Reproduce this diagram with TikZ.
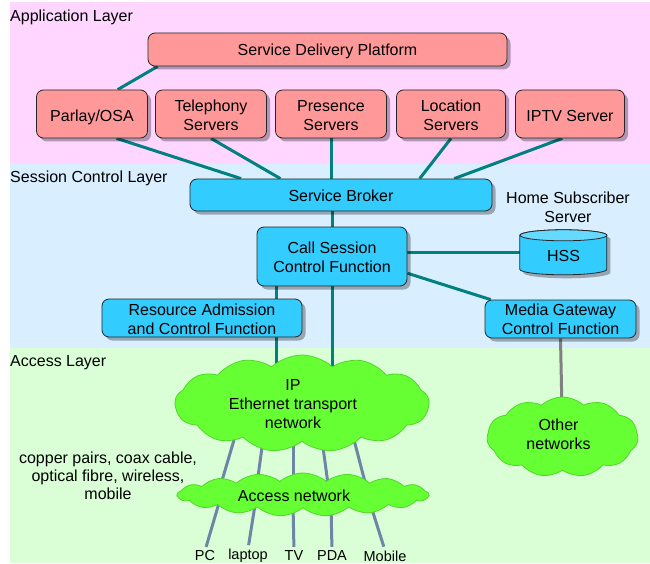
\documentclass[tikz,border=0pt]{standalone}
\usepackage{fontspec}
\setmainfont{Liberation Sans}
\usetikzlibrary{shapes.symbols,shadows,calc}
\pgfdeclarelayer{bg}
\pgfdeclarelayer{lines}
\pgfsetlayers{bg,lines,main}
\definecolor{pinkband}{RGB}{255,214,255}
\definecolor{blueband}{RGB}{217,238,255}
\definecolor{greenband}{RGB}{218,255,214}
\definecolor{redfill}{RGB}{255,153,153}
\definecolor{bluefill}{RGB}{51,204,255}
\definecolor{bluetop}{RGB}{102,217,255}
\definecolor{tealline}{RGB}{0,128,128}
\definecolor{slateline}{RGB}{110,134,166}
\definecolor{grayline}{RGB}{128,128,128}
\definecolor{cloudfill}{RGB}{102,255,51}
\definecolor{cloudedge}{RGB}{80,215,40}
% text block whose last baseline sits #1 below the node centre, shifted #2 horizontally
\newcommand\bt[3][7pt]{\raisebox{-#1}[0pt][0pt]{\makebox[0pt][c]{\hspace*{#2}\begin{tabular}[b]{@{}c@{}}#3\end{tabular}}}}
\begin{document}
\begin{tikzpicture}[x=1pt,y=-1pt,
  every node/.style={font=\fontsize{16}{19}\selectfont, align=center, inner sep=0pt},
  boxbase/.style={draw=black!85, line width=0.8pt, rounded corners=7pt,
    drop shadow={shadow xshift=3.5pt, shadow yshift=-3.5pt, fill=black, opacity=0.3}},
  appbox/.style={boxbase, fill=redfill},
  ctlbox/.style={boxbase, fill=bluefill},
  conn/.style={draw=tealline, line width=3pt},
  accline/.style={draw=slateline, line width=3pt},
  netcloud/.style={cloud, cloud ignores aspect, fill=cloudfill, draw=cloudedge, line width=0.8pt},
  layerlabel/.style={anchor=west},
  devlabel/.style={font=\fontsize{14.5}{17}\selectfont},
]
\useasboundingbox (0,0) rectangle (650,564);

% layer bands
\begin{pgfonlayer}{bg}
  \fill[pinkband] (10,2) rectangle (650,164);
  \fill[blueband] (10,164) rectangle (650,348);
  \fill[greenband] (10,348) rectangle (650,563);
\end{pgfonlayer}

\node[layerlabel] (lapp) at (10,17) {Application Layer};
\node[layerlabel] (lses) at (10,178) {Session Control Layer};
\node[layerlabel] (lacc) at (10,363) {Access Layer};

% application layer
\node[appbox, minimum width=359pt, minimum height=33pt] (sdp) at (327.5,49.5) {\bt[5.8pt]{0pt}{Service Delivery Platform}};
\node[appbox, minimum width=111pt, minimum height=48pt] (parlay) at (92,114) {\bt[8pt]{0pt}{Parlay/OSA}};
\node[appbox, minimum width=111pt, minimum height=48pt] (tel) at (211,114) {\bt[16.4pt]{0pt}{Telephony\\Servers}};
\node[appbox, minimum width=111pt, minimum height=48pt] (pres) at (331,114) {\bt[16.4pt]{0pt}{Presence\\Servers}};
\node[appbox, minimum width=109pt, minimum height=48pt] (loc) at (451,114) {\bt[16.4pt]{0pt}{Location\\Servers}};
\node[appbox, minimum width=109pt, minimum height=48pt] (iptv) at (570,114) {\bt[8pt]{0pt}{IPTV Server}};

% session control layer
\node[ctlbox, minimum width=302pt, minimum height=32pt] (sb) at (341,195) {\bt[6.5pt]{0pt}{Service Broker}};
\node[ctlbox, minimum width=150pt, minimum height=59pt] (cscf) at (332,256.5) {\bt[16.2pt]{0pt}{Call Session\\Control Function}};
\node[ctlbox, minimum width=200pt, minimum height=38pt] (racf) at (202,318) {\bt[16.2pt]{0pt}{Resource Admission\\and Control Function}};
\node[ctlbox, minimum width=151pt, minimum height=38pt] (mgcf) at (560.5,319) {\bt[15.8pt]{0pt}{Media Gateway\\Control Function}};
\node (hsslbl) at (568,207) {Home Subscriber\\Server};

% HSS cylinder
\node[minimum width=87pt, minimum height=45pt] (hss) at (563.5,252.5) {};
\fill[black, opacity=0.3] ($(hss.north west)+(3.5pt,-9pt)$) -- ++(0pt,-34pt)
   arc[start angle=180, end angle=360, x radius=43.5pt, y radius=5.5pt] -- ++(0pt,34pt)
   arc[start angle=0, end angle=180, x radius=43.5pt, y radius=5.5pt] -- cycle;
\filldraw[fill=bluefill, draw=black!85, line width=0.8pt] ($(hss.north west)+(0pt,-5.5pt)$) -- ++(0pt,-34pt)
   arc[start angle=180, end angle=360, x radius=43.5pt, y radius=5.5pt] -- ++(0pt,34pt)
   arc[start angle=0, end angle=180, x radius=43.5pt, y radius=5.5pt] -- cycle;
\filldraw[fill=bluetop, draw=black!85, line width=0.8pt] ($(hss.north)+(0pt,-5.5pt)$) ellipse[x radius=43.5pt, y radius=5.5pt];
\node (hsstext) at (hss.center) {\bt[9.2pt]{0pt}{HSS}};

% access layer clouds
\node[netcloud, cloud puffs=13, cloud puff arc=85, minimum width=254pt, minimum height=97pt] (ip) at (302,403.5) {\bt[25pt]{-18pt}{IP\\Ethernet transport\\network}};
\node[netcloud, cloud puffs=17, cloud puff arc=80, minimum width=251pt, minimum height=43pt] (an) at (303,494.5) {\bt[7.4pt]{-18pt}{Access network}};
\node[netcloud, cloud puffs=11, cloud puff arc=85, minimum width=151pt, minimum height=80pt] (other) at (562.5,437) {\bt[12.7pt]{-8pt}{Other\\networks}};

\node (medium) at (108,476) {copper pairs, coax cable,\\[-1pt]optical fibre, wireless,\\[-1pt]mobile};

% devices
\node[devlabel] (pc) at (205,556) {PC};
\node[devlabel] (laptop) at (248,556) {laptop};
\node[devlabel] (tv) at (294,556) {TV};
\node[devlabel] (pda) at (332,556) {PDA};
\node[devlabel] (mobile) at (385,556) {Mobile};

% connector end points inside the clouds
\coordinate (t1) at (234,440); \coordinate (u1) at (221,484);
\coordinate (t2) at (263,440); \coordinate (u2) at (257,484);
\coordinate (t3) at (293,440); \coordinate (u3) at (293,484);
\coordinate (t4) at (322,440); \coordinate (u4) at (328,484);
\coordinate (t5) at (353,436); \coordinate (u5) at (365,482);
\coordinate (d1) at (219,503);
\coordinate (d2) at (255,505);
\coordinate (d3) at (293,505);
\coordinate (d4) at (331,505);
\coordinate (d5) at (370,503);
\coordinate (c1) at ($(cscf.south west)!0.13!(cscf.south east)$);

\begin{pgfonlayer}{lines}
  \draw[conn] ($(sdp.south west)!0.028!(sdp.south east)$) -- ($(parlay.north west)!0.73!(parlay.north east)$);
  \draw[conn] ($(parlay.south west)!0.72!(parlay.south east)$) -- ($(sb.north west)!0.17!(sb.north east)$);
  \draw[conn] (tel.south) -- ($(sb.north west)!0.30!(sb.north east)$);
  \draw[conn] (pres.south) -- (pres.south |- sb.north);
  \draw[conn] (loc.south) -- ($(sb.north west)!0.76!(sb.north east)$);
  \draw[conn] ($(iptv.south west)!0.43!(iptv.south east)$) -- ($(sb.north west)!0.874!(sb.north east)$);
  \draw[conn] (cscf.north |- sb.south) -- (cscf.north);
  \draw[conn] (cscf.east |- hss.center) -- (hss.west);
  \draw[conn] ($(cscf.north east)!0.78!(cscf.south east)$) -- ($(mgcf.north west)!0.04!(mgcf.north east)$);
  \draw[conn] (c1) -- (c1 |- ip.center);
  \draw[conn] (cscf.south) -- (cscf.south |- ip.center);
  \draw[draw=grayline, line width=3pt] (mgcf.south) -- (other.center);
  \draw[accline] (t1) -- (u1);
  \draw[accline] (t2) -- (u2);
  \draw[accline] (t3) -- (u3);
  \draw[accline] (t4) -- (u4);
  \draw[accline] (t5) -- (u5);
  \draw[accline, shorten >=4pt] (d1) -- (pc.north);
  \draw[accline, shorten >=4pt] (d2) -- (laptop.north);
  \draw[accline, shorten >=4pt] (d3) -- (tv.north);
  \draw[accline, shorten >=4pt] (d4) -- (pda.north);
  \draw[accline, shorten >=4pt] (d5) -- (mobile.north);
\end{pgfonlayer}
\end{tikzpicture}
\end{document}
